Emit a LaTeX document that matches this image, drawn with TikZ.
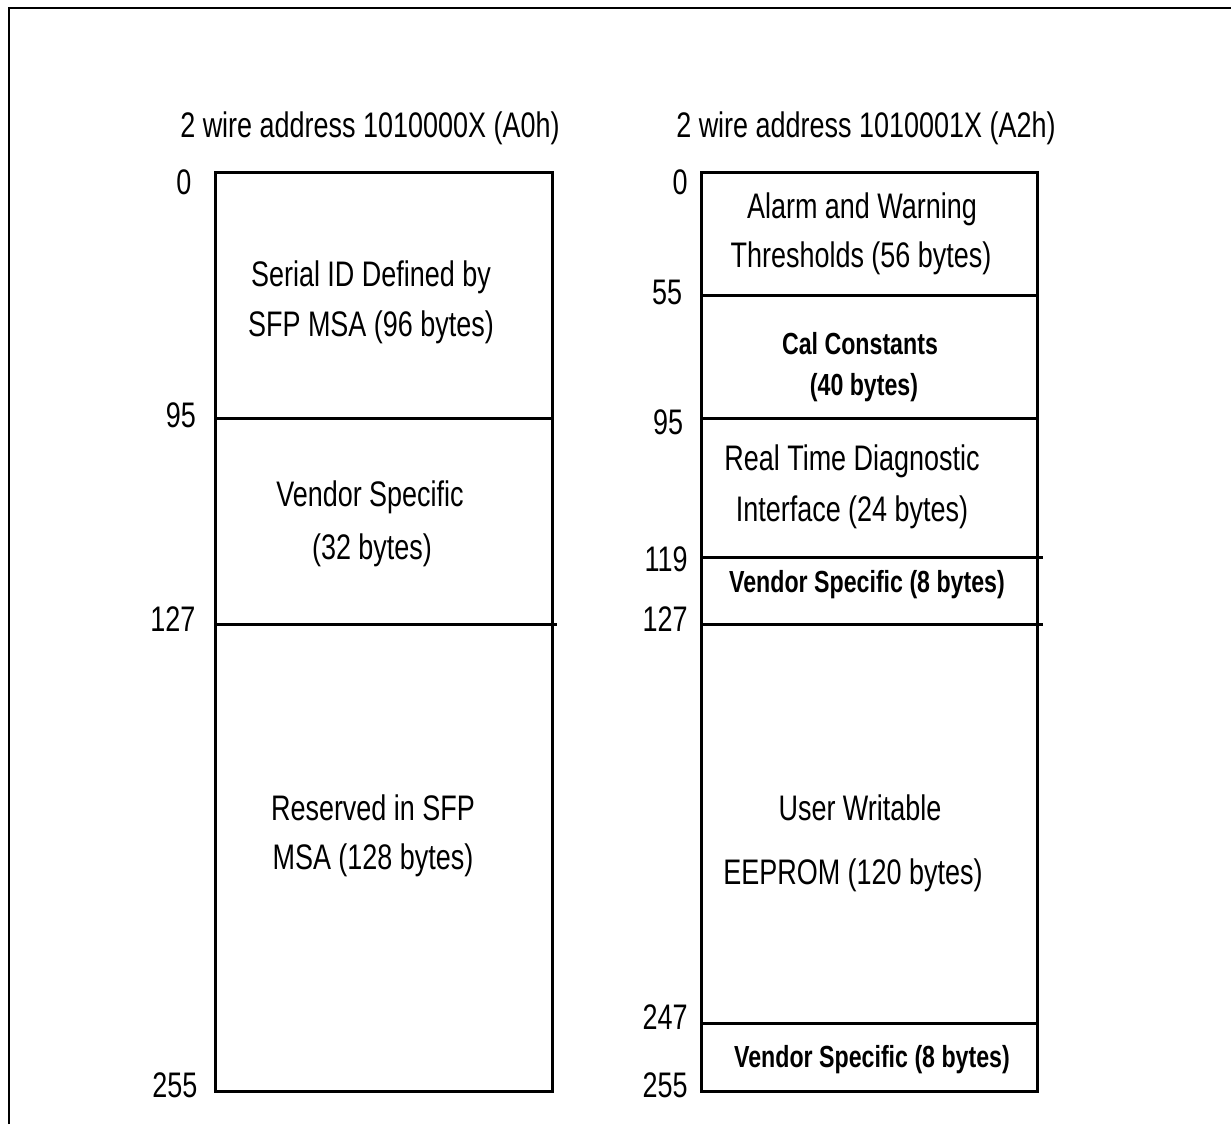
\documentclass[tikz,border=0pt]{standalone}
\usepackage{fontspec}
\setmainfont[FakeStretch=0.76]{Liberation Sans}
\begin{document}
\begin{tikzpicture}[x=1pt,y=-1pt,
  boxline/.style={line width=3pt,line cap=rect},
  frameline/.style={line width=2pt},
  lbl/.style={inner sep=0pt,anchor=center,font=\fontsize{35.5}{40}\selectfont},
  blbl/.style={inner sep=0pt,anchor=center,font=\fontsize{30.5}{34}\selectfont\bfseries},
  num/.style={inner sep=0pt,anchor=center,font=\fontsize{35.5}{40}\selectfont}]
\useasboundingbox (0,0) rectangle (1231,1124);
% outer frame
\coordinate (fbl) at (9,1124);
\coordinate (ftl) at (9,8);
\coordinate (ftr) at (1231,8);
\draw[frameline] (fbl) -- (ftl) -- (ftr);
% titles
\node[lbl] (tA) at (370,128) {2 wire address 1010000X (A0h)};
\node[lbl] (tB) at (866,128) {2 wire address 1010001X (A2h)};
% left box
\coordinate (L0) at (215,172);
\coordinate (L1) at (552,1091);
\draw[boxline] (L0) rectangle (L1);
\coordinate (La) at (215,418); \coordinate (Lb) at (552,418);
\coordinate (Lc) at (215,624); \coordinate (Ld) at (555,624);
\draw[boxline] (La) -- (Lb);
\draw[boxline] (Lc) -- (Ld);
% right box
\coordinate (R0) at (701,172);
\coordinate (R1) at (1037,1091);
\draw[boxline] (R0) rectangle (R1);
\coordinate (Ra) at (701,295); \coordinate (Rb) at (1037,295);
\coordinate (Rc) at (701,418); \coordinate (Rd) at (1037,418);
\coordinate (Re) at (703,557); \coordinate (Rf) at (1041,557);
\coordinate (Rg) at (703,624); \coordinate (Rh) at (1041,624);
\coordinate (Ri) at (701,1023); \coordinate (Rj) at (1037,1023);
\draw[boxline] (Ra) -- (Rb);
\draw[boxline] (Rc) -- (Rd);
\draw[boxline] (Re) -- (Rf);
\draw[boxline] (Rg) -- (Rh);
\draw[boxline] (Ri) -- (Rj);
% left numbers
\node[num] (nL0) at (184,182) {0};
\node[num] (nL95) at (181,415) {95};
\node[num] (nL127) at (173,619) {127};
\node[num] (nL255) at (175,1085) {255};
% right numbers
\node[num] (nR0) at (680,182) {0};
\node[num] (nR55) at (667,292) {55};
\node[num] (nR95) at (668,422) {95};
\node[num] (nR119) at (666,559) {119};
\node[num] (nR127) at (665,619) {127};
\node[num] (nR247) at (665,1017) {247};
\node[num] (nR255) at (665,1085) {255};
% left texts
\node[lbl] (s1) at (371,277) {Serial ID Defined by};
\node[lbl] (s2) at (371,327) {SFP MSA (96 bytes)};
\node[lbl] (v1) at (370,497) {Vendor Specific};
\node[lbl] (v2) at (372,550) {(32 bytes)};
\node[lbl] (r1) at (373,808) {Reserved in SFP};
\node[lbl] (r2) at (373,860) {MSA (128 bytes)};
% right texts
\node[lbl] (a1) at (862,209) {Alarm and Warning};
\node[lbl] (a2) at (861,258) {Thresholds (56 bytes)};
\node[blbl] (c1) at (860,344) {Cal Constants};
\node[blbl] (c2) at (864,388) {(40 bytes)};
\node[lbl] (d1) at (852,461) {Real Time Diagnostic};
\node[lbl] (d2) at (852,512) {Interface (24 bytes)};
\node[blbl] (vs1) at (867,585) {Vendor Specific (8 bytes)};
\node[lbl] (u1) at (860,808) {User Writable};
\node[lbl] (u2) at (853,875) {EEPROM (120 bytes)};
\node[blbl] (vs2) at (872,1060) {Vendor Specific (8 bytes)};
\end{tikzpicture}
\end{document}
